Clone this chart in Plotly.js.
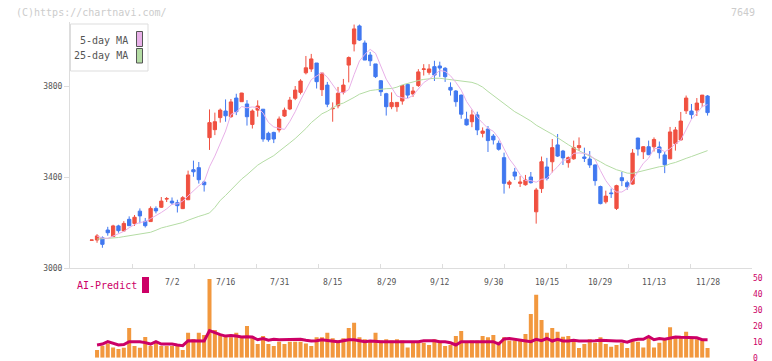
<!DOCTYPE html>
<html>
<head>
<meta charset="utf-8">
<script src="https://cdn.plot.ly/plotly-3.0.1.min.js"></script>
<style>
html,body{margin:0;padding:0;background:#fff;}
#chart{width:772px;height:361px;}
</style>
</head>
<body>
<div id="chart"></div>
<script>
// ---- data ----
const dates = [
 '6/11','6/12','6/13','6/16','6/17','6/18','6/19','6/20','6/23','6/24','6/25','6/26','6/27','6/30',
 '7/1','7/2','7/3','7/4','7/7','7/8','7/9','7/10','7/11','7/14','7/15','7/16','7/17','7/18','7/22','7/23','7/24','7/25','7/28','7/29','7/30','7/31',
 '8/1','8/4','8/5','8/6','8/7','8/8','8/12','8/13','8/14','8/15','8/18','8/19','8/20','8/21','8/22','8/25','8/26','8/27','8/28','8/29',
 '9/1','9/2','9/3','9/4','9/5','9/8','9/9','9/10','9/11','9/12','9/16','9/17','9/18','9/19','9/22','9/24','9/25','9/26','9/29','9/30',
 '10/1','10/2','10/3','10/6','10/7','10/8','10/9','10/10','10/14','10/15','10/16','10/17','10/20','10/21','10/22','10/23','10/24','10/27','10/28','10/29','10/30','10/31',
 '11/4','11/5','11/6','11/7','11/10','11/11','11/12','11/13','11/14','11/17','11/18','11/19','11/20','11/21','11/25','11/26','11/27','11/28'
];
const open = [3122,3123,3133,3167,3138,3185,3163,3214,3196,3250,
 3205,3204,3262,3267,3303,3294,3287,3261,3300,3432,
 3441,3378,3573,3608,3661,3690,3665,3747,3731,3721,
 3631,3694,3698,3592,3596,3607,3668,3699,3746,3772,
 3858,3875,3901,3784,3804,3700,3713,3772,3892,3985,
 4064,3989,3936,3897,3823,3766,3709,3709,3734,3807,
 3765,3802,3873,3860,3885,3888,3878,3794,3778,3760,
 3654,3643,3673,3592,3611,3580,3548,3485,3368,3422,
 3372,3366,3400,3247,3349,3444,3467,3541,3514,3463,
 3480,3529,3488,3479,3453,3358,3291,3330,3262,3397,
 3375,3369,3571,3511,3533,3533,3532,3497,3480,3547,
 3563,3691,3690,3694,3727,3756];
const high = [3123,3149,3139,3181,3190,3190,3206,3227,3233,3262,
 3220,3271,3271,3312,3312,3310,3300,3316,3428,3472,
 3466,3384,3697,3683,3701,3741,3743,3766,3770,3738,
 3697,3737,3698,3599,3599,3666,3705,3752,3800,3830,
 3932,3941,3901,3857,3818,3728,3796,3831,3930,4070,
 4070,4000,3950,3897,3826,3770,3772,3728,3802,3813,
 3796,3874,3896,3896,3911,3907,3883,3816,3782,3762,
 3687,3696,3687,3618,3624,3589,3560,3507,3386,3440,
 3404,3409,3422,3352,3490,3484,3567,3589,3519,3490,
 3560,3574,3529,3514,3455,3362,3340,3349,3366,3422,
 3384,3523,3573,3536,3560,3574,3556,3510,3620,3620,
 3686,3758,3721,3747,3760,3760];
const low = [3122,3111,3089,3142,3137,3155,3159,3185,3185,3196,
 3178,3204,3240,3264,3290,3277,3244,3259,3300,3401,
 3371,3336,3519,3584,3639,3643,3660,3672,3731,3626,
 3613,3665,3555,3555,3549,3596,3664,3694,3738,3763,
 3851,3862,3789,3756,3707,3643,3702,3763,3816,3952,
 3998,3914,3888,3835,3756,3670,3698,3687,3718,3747,
 3752,3796,3846,3850,3822,3840,3818,3758,3709,3656,
 3626,3619,3584,3574,3510,3543,3516,3327,3350,3387,
 3356,3362,3371,3195,3330,3385,3420,3488,3453,3441,
 3476,3514,3466,3440,3362,3280,3283,3308,3255,3360,
 3344,3366,3494,3479,3496,3512,3481,3417,3478,3516,
 3560,3677,3655,3668,3707,3670];
const close = [3123,3141,3104,3155,3185,3164,3196,3186,3223,3229,
 3186,3262,3251,3294,3305,3286,3274,3309,3409,3423,
 3388,3366,3639,3643,3694,3669,3730,3687,3769,3665,
 3690,3712,3567,3564,3567,3655,3694,3738,3782,3822,
 3880,3919,3819,3857,3720,3702,3768,3804,3925,4051,
 4002,3914,3911,3841,3775,3709,3727,3728,3802,3760,
 3778,3862,3875,3875,3848,3879,3841,3782,3731,3676,
 3629,3673,3607,3602,3560,3563,3522,3372,3378,3404,
 3378,3387,3375,3343,3467,3394,3529,3492,3484,3485,
 3529,3538,3482,3453,3384,3283,3316,3327,3362,3384,
 3357,3505,3523,3533,3498,3565,3507,3454,3598,3607,
 3646,3747,3674,3725,3760,3683];
const ma5 = [null,3140,3132,3130,
 3141,3150,3161,3177,3191,3200,3204,3217,3230,3244,
 3260,3280,3282,3294,3317,3340,3361,3379,3445,3492,
 3546,3602,3675,3685,3710,3704,3708,3705,3681,3640,
 3620,3613,3609,3644,3687,3738,3783,3828,3844,3859,
 3839,3803,3773,3770,3784,3850,3910,3939,3961,3944,
 3889,3830,3793,3756,3748,3745,3759,3786,3815,3830,
 3848,3868,3864,3845,3816,3782,3732,3698,3663,3637,
 3614,3601,3571,3524,3479,3448,3411,3384,3384,3377,
 3390,3393,3422,3445,3473,3477,3504,3506,3504,3497,
 3477,3428,3384,3353,3334,3334,3349,3387,3426,3460,
 3483,3525,3525,3511,3524,3546,3562,3610,3654,3680,
 3710,3718];
const ma25 = [null,3127,3128,3129,3130,3134,3138,3142,3146,3150,
 3153,3157,3166,3176,3182,3188,3194,3200,3210,3220,
 3227,3234,3242,3266,3297,3319,3343,3366,3391,3410,
 3431,3452,3467,3480,3494,3513,3530,3550,3569,3590,
 3613,3639,3660,3678,3689,3702,3718,3725,3736,3750,
 3764,3771,3780,3783,3787,3788,3789,3795,3805,3812,
 3817,3824,3829,3833,3834,3834,3831,3829,3824,3823,
 3820,3816,3808,3795,3776,3758,3742,3721,3702,3687,
 3674,3661,3646,3628,3616,3601,3588,3572,3557,3542,
 3528,3516,3504,3493,3481,3467,3453,3442,3432,3425,
 3417,3416,3422,3429,3432,3440,3445,3448,3458,3464,
 3474,3482,3490,3499,3510,3516];
const volume = [null,
 4.8,7.5,9.0,6.5,5.5,6.3,18.7,7.4,6.3,13.0,
 7.4,10.1,7.4,7.4,7.4,7.4,4.8,15.7,11.8,15.7,
 14.3,49.5,17.4,14.9,14.3,12.8,15.7,12.8,19.9,12.8,
 8.6,13.6,8.6,7.4,10.1,8.6,10.1,10.1,10.1,9.0,
 7.4,12.8,12.8,15.7,12.2,10.9,12.2,18.7,22.0,12.8,
 11.6,10.9,15.7,10.9,11.6,10.9,11.6,10.9,6.5,9.4,
 9.4,9.4,8.0,11.6,10.1,7.4,8.0,13.6,16.8,9.4,
 10.9,10.9,13.6,12.8,14.3,10.1,12.8,10.9,10.9,10.9,
 14.9,27.5,39.6,23.7,15.7,18.7,16.4,13.2,13.6,10.1,
 6.1,8.6,11.6,9.4,12.8,8.6,6.9,8.0,9.4,6.1,
 10.9,10.1,6.5,12.8,6.5,9.4,11.6,19.1,13.6,13.6,
 16.4,12.2,11.6,10.9,6.1];
const aiPredict = [null,
 8.0,8.6,10.1,9.0,8.0,8.3,10.1,10.1,10.1,9.5,
 8.6,10.1,8.6,8.6,8.6,8.0,7.6,10.7,10.7,10.7,
 10.5,17.0,15.5,14.5,13.6,14.0,13.6,13.0,13.2,13.0,
 11.3,12.1,11.0,11.6,11.3,11.3,11.3,11.3,11.6,11.0,
 10.5,10.7,11.3,10.9,10.5,10.1,10.7,11.3,11.3,10.7,
 10.1,10.5,10.1,10.1,10.1,10.1,10.1,10.1,10.1,10.1,
 10.1,10.7,10.7,10.7,10.1,10.1,9.4,8.0,10.1,10.1,
 10.1,10.1,10.1,10.1,10.1,8.6,11.8,12.1,11.6,11.3,
 10.5,10.1,11.6,10.7,12.1,10.5,11.6,10.5,10.5,11.0,
 10.5,10.5,10.5,10.7,11.0,10.7,10.5,10.5,10.5,9.8,
 11.0,11.6,11.6,13.4,11.3,12.1,11.6,12.5,13.0,12.8,
 12.8,12.5,12.5,11.3,11.3];
const dateLabels = ['7/2','7/16','7/31','8/15','8/29','9/12','9/30','10/15','10/29','11/13','11/28'];
const priceTicks = [3000,3400,3800];
const volTicks = [0,10,20,30,40,50];
const code = '7649';
const copyright = '(C)https://chartnavi.com/';

// ---- layout helpers ----
const W = 772, H = 361, ML = 70, MR = 20;
const PW = W - ML - MR;
const fx = p => (p - ML) / PW;      // pixel x -> paper
const fy = p => (H - p) / H;        // pixel y -> paper
const idx = dates.map((d, i) => i);
const MONO = 'DejaVu Sans Mono, Liberation Mono, monospace';
const RED = '#F05040', BLUE = '#4078F0', PINK = '#E8B0E8', GREEN = '#B4DCA4';
const CRIMSON = '#CC0066', ORANGE = '#F2983E', AXIS = '#DDDDDD', TXT = '#555555';

const traces = [
 {type:'scatter', mode:'lines', x: idx, y: ma25, xaxis:'x', yaxis:'y',
  line:{color:GREEN, width:1}, hoverinfo:'skip', showlegend:false},
 {type:'scatter', mode:'lines', x: idx, y: ma5, xaxis:'x', yaxis:'y',
  line:{color:PINK, width:1}, hoverinfo:'skip', showlegend:false},
 {type:'candlestick', x: idx, open: open, high: high, low: low, close: close,
  xaxis:'x', yaxis:'y', whiskerwidth:0,
  increasing:{line:{color:RED, width:1}, fillcolor:RED},
  decreasing:{line:{color:BLUE, width:1}, fillcolor:BLUE},
  hoverinfo:'skip', showlegend:false},
 {type:'bar', x: idx, y: volume, xaxis:'x2', yaxis:'y2', width:0.75,
  marker:{color:ORANGE, line:{width:0}}, hoverinfo:'skip', showlegend:false},
 {type:'scatter', mode:'lines', x: idx, y: aiPredict, xaxis:'x2', yaxis:'y2',
  line:{color:CRIMSON, width:3}, hoverinfo:'skip', showlegend:false}
];

const xRange = [-4.05, 123.3];
const dtick = 62 / 5.355;

const annotations = dateLabels.map(t => ({
  xref:'x', yref:'paper', x: dates.indexOf(t), y: fy(282.5),
  text: t, showarrow:false, xanchor:'center', yanchor:'middle',
  font:{family:MONO, size:8, color:TXT}
}));
annotations.push(
 {xref:'paper', yref:'paper', x: fx(14), y: fy(12), text: copyright, showarrow:false,
  xanchor:'left', yanchor:'middle', font:{family:MONO, size:10, color:'#CCCCCC'}},
 {xref:'paper', yref:'paper', x: fx(757), y: fy(12), text: code, showarrow:false,
  xanchor:'right', yanchor:'middle', font:{family:MONO, size:10, color:'#CCCCCC'}},
 {xref:'paper', yref:'paper', x: fx(130), y: fy(40), text:'5-day MA', showarrow:false,
  xanchor:'right', yanchor:'middle', font:{family:MONO, size:10, color:TXT}},
 {xref:'paper', yref:'paper', x: fx(130), y: fy(56), text:'25-day MA', showarrow:false,
  xanchor:'right', yanchor:'middle', font:{family:MONO, size:10, color:TXT}},
 {xref:'paper', yref:'paper', x: fx(75), y: fy(285.5), text:'AI-Predict', showarrow:false,
  xanchor:'left', yanchor:'middle', font:{family:MONO, size:10, color:CRIMSON}}
);

const shapes = [
 {type:'rect', xref:'paper', yref:'paper', x0: fx(70.5), x1: fx(148), y0: fy(71), y1: fy(24),
  line:{color:AXIS, width:1}, fillcolor:'rgba(255,255,255,0)'},
 {type:'rect', xref:'paper', yref:'paper', x0: fx(136.5), x1: fx(142.5), y0: fy(46.5), y1: fy(31.5),
  line:{color:'#555', width:1}, fillcolor:PINK},
 {type:'rect', xref:'paper', yref:'paper', x0: fx(136.5), x1: fx(142.5), y0: fy(63), y1: fy(48.5),
  line:{color:'#555', width:1}, fillcolor:GREEN},
 {type:'rect', xref:'paper', yref:'paper', x0: fx(142), x1: fx(149), y0: fy(293), y1: fy(277),
  line:{width:0}, fillcolor:CRIMSON}
];

const layout = {
 width:W, height:H, margin:{l:ML, r:MR, t:0, b:0, pad:0},
 paper_bgcolor:'#fff', plot_bgcolor:'#fff', showlegend:false,
 boxgap:0.12,
 xaxis:{domain:[0,1], anchor:'y', range:xRange, autorange:false,
  tickmode:'linear', tick0:xRange[0], dtick:dtick,
  ticks:'inside', ticklen:4, tickcolor:AXIS, showticklabels:false,
  showline:true, linecolor:AXIS, linewidth:1, showgrid:false, zeroline:false,
  rangeslider:{visible:false}, fixedrange:true},
 yaxis:{domain:[fy(268), fy(22.3)], anchor:'x', range:[3000,4080], autorange:false,
  tickmode:'array', tickvals:priceTicks, ticktext:priceTicks.map(String),
  ticks:'outside', ticklen:5, tickcolor:AXIS,
  tickfont:{family:MONO, size:8, color:TXT},
  showline:true, linecolor:AXIS, linewidth:1, showgrid:false, zeroline:false, fixedrange:true},
 xaxis2:{domain:[0,1], anchor:'y2', matches:'x', range:xRange, autorange:false,
  showticklabels:false, ticks:'', showline:false, showgrid:false, zeroline:false, fixedrange:true},
 yaxis2:{domain:[fy(357.7), fy(278.3)], anchor:'x2', side:'right', range:[0,50], autorange:false,
  tickmode:'array', tickvals:volTicks, ticktext:volTicks.map(String), ticks:'',
  ticklabeloverflow:'allow',
  tickfont:{family:MONO, size:8, color:CRIMSON},
  showline:false, showgrid:false, zeroline:false, fixedrange:true},
 annotations: annotations,
 shapes: shapes
};

Plotly.newPlot('chart', traces, layout, {displayModeBar:false, staticPlot:true});
</script>
</body>
</html>
